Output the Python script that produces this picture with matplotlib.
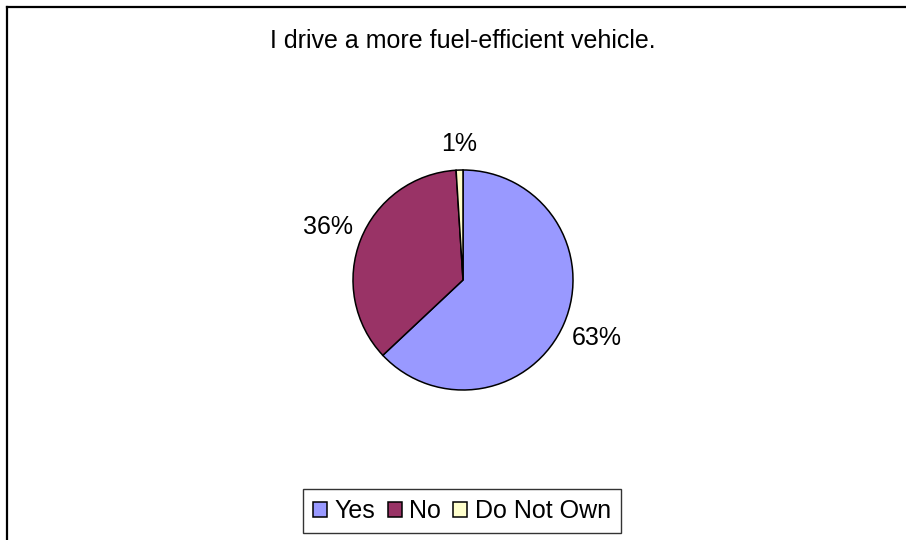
import matplotlib
matplotlib.use("Agg")
import matplotlib.pyplot as plt
from matplotlib.lines import Line2D
import numpy as np

categories = ["Yes", "No", "Do Not Own"]
values = [63, 36, 1]
colors = ["#9999FF", "#993366", "#FFFFCC"]
title = "I drive a more fuel-efficient vehicle."

plt.rcParams['font.family'] = ['Liberation Sans', 'DejaVu Sans']

W, H = 906, 540
fig = plt.figure(figsize=(W / 100, H / 100), dpi=100)
fig.patch.set_facecolor("white")

# outer border (left and top visible; right/bottom run off the image)
fig.add_artist(Line2D([7 / W, 7 / W], [0, 1 - 7 / H], transform=fig.transFigure, color="black", lw=1.6))
fig.add_artist(Line2D([7 / W, 1], [1 - 7 / H, 1 - 7 / H], transform=fig.transFigure, color="black", lw=1.6))

cx, cy, r = 463, 280, 110
ax = fig.add_axes([(cx - r) / W, (H - cy - r) / H, 2 * r / W, 2 * r / H])
wedges, texts, autotexts = ax.pie(
    values, colors=colors, startangle=90, counterclock=False,
    autopct=lambda p: f"{p:.0f}%", pctdistance=1.32,
    wedgeprops=dict(edgecolor="black", linewidth=1.1),
    textprops=dict(fontsize=18, color="black"))
# the tiny slice label sits a little closer to the pie
w = wedges[2]
ang = np.deg2rad((w.theta1 + w.theta2) / 2)
autotexts[2].set_position((1.24 * np.cos(ang), 1.24 * np.sin(ang)))
ax.set_xlim(-1, 1)
ax.set_ylim(-1, 1)
ax.set_aspect("equal")
ax.axis("off")

fig.text(463 / W, 1 - 41 / H, title, ha="center", va="center", fontsize=18)

leg = fig.legend(wedges, categories, loc="center", bbox_to_anchor=(462 / W, 1 - 511 / H),
                 ncol=3, fontsize=18, frameon=True, fancybox=False, edgecolor="black",
                 handlelength=0.55, handleheight=0.55, handletextpad=0.3, columnspacing=0.5,
                 borderpad=0.4, borderaxespad=0)
leg.get_frame().set_linewidth(1.0)

fig.savefig("out.png", dpi=100, facecolor="white")
